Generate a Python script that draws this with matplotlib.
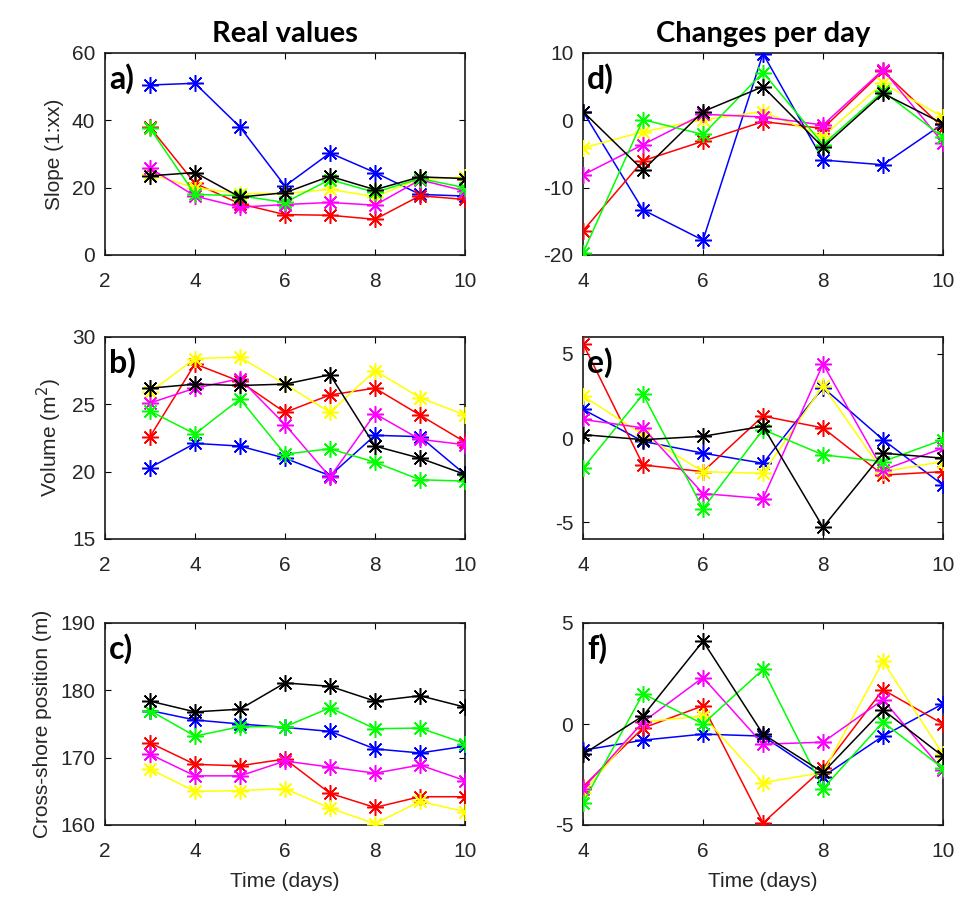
import matplotlib

matplotlib.use("Agg")
import matplotlib.pyplot as plt

# survey days for the real values and for the day-to-day changes
days = [3, 4, 5, 6, 7, 8, 9, 10]
change_days = [4, 5, 6, 7, 8, 9, 10]

# slope (1:xx) per profile
slope_blue = [50.5, 51.0, 38.0, 20.5, 30.3, 24.5, 18.0, 17.5]
slope_red = [37.9, 21.3, 15.2, 12.0, 11.8, 10.6, 17.6, 16.5]
slope_yellow = [24.0, 20.0, 18.2, 18.3, 19.5, 17.3, 22.6, 23.1]
slope_magenta = [25.8, 17.5, 14.2, 15.0, 15.6, 14.8, 22.3, 19.0]
slope_green = [37.6, 18.0, 17.6, 15.6, 22.4, 18.6, 22.7, 20.0]
slope_black = [23.5, 24.5, 17.2, 18.5, 23.4, 19.4, 23.2, 22.7]

# volume (m2) per profile
vol_blue = [20.3, 22.1, 21.9, 21.0, 19.7, 22.7, 22.6, 19.8]
vol_red = [22.6, 28.0, 26.7, 24.4, 25.7, 26.2, 24.2, 22.2]
vol_yellow = [25.9, 28.4, 28.5, 26.5, 24.4, 27.5, 25.5, 24.2]
vol_magenta = [25.1, 26.2, 26.9, 23.5, 19.6, 24.3, 22.4, 22.0]
vol_green = [24.5, 22.8, 25.4, 21.3, 21.7, 20.7, 19.4, 19.3]
vol_black = [26.2, 26.5, 26.4, 26.5, 27.2, 21.9, 21.0, 19.8]

# cross-shore position (m) per profile
pos_blue = [177.0, 175.6, 175.0, 174.5, 173.9, 171.3, 170.7, 171.7]
pos_red = [172.2, 169.0, 168.8, 169.8, 164.7, 162.6, 164.2, 164.2]
pos_yellow = [168.3, 165.0, 165.1, 165.4, 162.5, 160.2, 163.5, 162.0]
pos_magenta = [170.5, 167.3, 167.3, 169.5, 168.6, 167.7, 168.9, 166.6]
pos_green = [177.0, 173.2, 174.6, 174.6, 177.4, 174.3, 174.4, 172.1]
pos_black = [178.4, 176.8, 177.2, 181.1, 180.6, 178.4, 179.2, 177.5]

# changes per day
dslope_blue = [1.3, -13.3, -17.8, 9.9, -5.9, -6.6, -0.5]
dslope_red = [-16.4, -6.0, -3.1, -0.2, -1.2, 7.3, -1.1]
dslope_yellow = [-4.1, -1.7, 0.1, 1.3, -2.4, 5.5, 0.5]
dslope_magenta = [-8.1, -3.6, 0.9, 0.5, -0.7, 7.5, -3.3]
dslope_green = [-19.7, 0.1, -2.1, 7.1, -3.6, 4.3, -2.5]
dslope_black = [1.3, -7.4, 1.3, 5.0, -4.0, 4.0, -0.5]

dvol_blue = [1.7, -0.2, -0.9, -1.5, 3.0, -0.1, -2.8]
dvol_red = [5.6, -1.6, -2.0, 1.3, 0.6, -2.2, -2.0]
dvol_yellow = [2.5, 0.2, -2.0, -2.1, 3.1, -2.0, -1.4]
dvol_magenta = [1.1, 0.6, -3.3, -3.6, 4.4, -1.9, -0.6]
dvol_green = [-1.8, 2.6, -4.2, 0.5, -1.0, -1.4, -0.1]
dvol_black = [0.2, -0.1, 0.1, 0.7, -5.3, -0.9, -1.2]

dpos_blue = [-1.3, -0.8, -0.5, -0.6, -2.6, -0.6, 1.0]
dpos_red = [-3.1, -0.2, 0.9, -4.9, -2.2, 1.7, 0.0]
dpos_yellow = [-3.4, 0.1, 0.4, -2.9, -2.4, 3.1, -1.5]
dpos_magenta = [-3.2, 0.1, 2.3, -1.0, -0.9, 1.2, -2.3]
dpos_green = [-3.9, 1.5, 0.0, 2.7, -3.2, 0.1, -2.2]
dpos_black = [-1.5, 0.4, 4.1, -0.5, -2.4, 0.7, -1.6]

colors = ["#0000ff", "#ff0000", "#ffff00", "#ff00ff", "#00ff00", "#000000"]

real_panels = [
    ("a)", [slope_blue, slope_red, slope_yellow, slope_magenta, slope_green, slope_black],
     (0, 60), [0, 20, 40, 60], "Slope (1:xx)"),
    ("b)", [vol_blue, vol_red, vol_yellow, vol_magenta, vol_green, vol_black],
     (15, 30), [15, 20, 25, 30], "Volume (m$^2$)"),
    ("c)", [pos_blue, pos_red, pos_yellow, pos_magenta, pos_green, pos_black],
     (160, 190), [160, 170, 180, 190], "Cross-shore position (m)"),
]
change_panels = [
    ("d)", [dslope_blue, dslope_red, dslope_yellow, dslope_magenta, dslope_green, dslope_black],
     (-20, 10), [-20, -10, 0, 10]),
    ("e)", [dvol_blue, dvol_red, dvol_yellow, dvol_magenta, dvol_green, dvol_black],
     (-6, 6), [-5, 0, 5]),
    ("f)", [dpos_blue, dpos_red, dpos_yellow, dpos_magenta, dpos_green, dpos_black],
     (-5, 5), [-5, 0, 5]),
]

plt.rcParams["font.family"] = ["Liberation Sans", "DejaVu Sans"]
plt.rcParams["axes.unicode_minus"] = False
TXT = "#262626"
BOLD_FONT = ["Lato", "DejaVu Sans"]
ASTERISK = (8, 2, 0)

W, H = 961, 915
fig = plt.figure(figsize=(W / 100, H / 100), dpi=100)

col_left = [105, 583]
row_top = [53, 337, 623]
ax_w, ax_h = 360, 202


def make_axes(col, row):
    left = col_left[col] / W
    bottom = 1 - (row_top[row] + ax_h) / H
    return fig.add_axes([left, bottom, ax_w / W, ax_h / H])


def style(ax, label, xlim, xticks, ylim, yticks):
    ax.set_xlim(*xlim)
    ax.set_ylim(*ylim)
    ax.set_xticks(xticks)
    ax.set_yticks(yticks)
    ax.tick_params(direction="in", length=4, width=0.8, top=True, right=True,
                   labelsize=15, labelcolor=TXT)
    ax.tick_params(axis="x", pad=12)
    ax.tick_params(axis="y", pad=7)
    for sp in ax.spines.values():
        sp.set_linewidth(1.2)
        sp.set_color("#1a1a1a")
    ax.text(0.012, 0.95, label, transform=ax.transAxes, ha="left", va="top",
            fontsize=23, fontweight="bold", family=BOLD_FONT, zorder=5)


def draw_series(ax, x, series):
    for vals, c in zip(series, colors):
        ax.plot(x, vals, color=c, lw=1.1, marker=ASTERISK, ms=12, mew=1.1,
                mec=c, zorder=3)


for row, (label, series, ylim, yticks, ylabel) in enumerate(real_panels):
    ax = make_axes(0, row)
    draw_series(ax, days, series)
    style(ax, label, (2, 10), [2, 4, 6, 8, 10], ylim, yticks)
    ax.set_ylabel(ylabel, fontsize=15, color=TXT, labelpad=6)
    if row == 0:
        ax.set_title("Real values", fontsize=21, fontweight="bold",
                     family=BOLD_FONT, pad=8)
    if row == 2:
        ax.set_xlabel("Time (days)", fontsize=15, color=TXT, labelpad=8)

for row, (label, series, ylim, yticks) in enumerate(change_panels):
    ax = make_axes(1, row)
    draw_series(ax, change_days, series)
    style(ax, label, (4, 10), [4, 6, 8, 10], ylim, yticks)
    if row == 0:
        ax.set_title("Changes per day", fontsize=21, fontweight="bold",
                     family=BOLD_FONT, pad=8)
    if row == 2:
        ax.set_xlabel("Time (days)", fontsize=15, color=TXT, labelpad=8)

fig.savefig("out.png", dpi=100)
